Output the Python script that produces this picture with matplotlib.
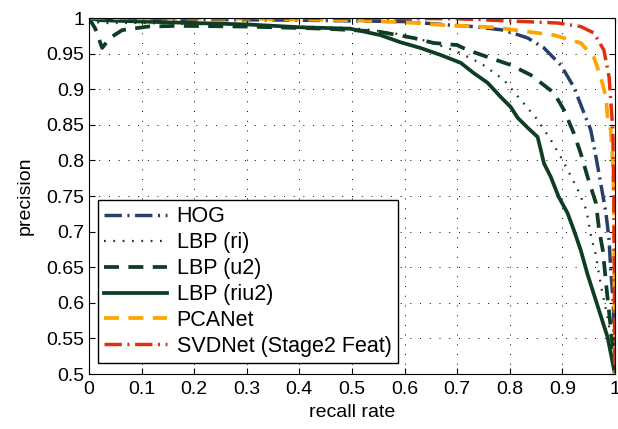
import matplotlib
matplotlib.use("Agg")
import matplotlib.pyplot as plt
import numpy as np

# precision / recall curves, one pair of lists per descriptor
hog_recall = [0.0, 0.05, 0.2, 0.4, 0.6, 0.688, 0.731, 0.789, 0.834, 0.865, 0.897, 0.922,
              0.941, 0.954, 0.964, 0.973, 0.983, 0.989, 0.992, 0.997, 0.999, 1.0]
hog_prec = [1.0, 0.998, 0.998, 0.997, 0.995, 0.99, 0.988, 0.983, 0.972, 0.958, 0.934, 0.903,
            0.867, 0.843, 0.805, 0.768, 0.726, 0.688, 0.646, 0.60, 0.544, 0.5]

ri_recall = [0.0, 0.02, 0.1, 0.3, 0.5, 0.55, 0.6, 0.65, 0.7, 0.748, 0.789, 0.821, 0.853,
             0.878, 0.897, 0.91, 0.93, 0.946, 0.956, 0.962, 0.974, 0.986, 0.996, 1.0]
ri_prec = [1.0, 0.993, 0.993, 0.99, 0.986, 0.982, 0.976, 0.966, 0.953, 0.935, 0.913, 0.885,
           0.857, 0.829, 0.805, 0.787, 0.758, 0.73, 0.688, 0.674, 0.622, 0.58, 0.534, 0.5]

u2_recall = [0.0, 0.012, 0.025, 0.04, 0.063, 0.112, 0.17, 0.3, 0.45, 0.55, 0.617, 0.655, 0.70,
             0.72, 0.802, 0.840, 0.884, 0.903, 0.922, 0.935, 0.948, 0.964, 0.970,
             0.977, 0.985, 0.996, 1.0]
u2_prec = [1.0, 0.985, 0.958, 0.972, 0.983, 0.988, 0.989, 0.988, 0.985, 0.981, 0.972, 0.965, 0.962,
           0.955, 0.934, 0.920, 0.895, 0.871, 0.838, 0.810, 0.777, 0.740, 0.702,
           0.674, 0.614, 0.538, 0.5]

riu2_recall = [0.0, 0.02, 0.1, 0.3, 0.402, 0.497, 0.554, 0.592, 0.630, 0.669, 0.707, 0.731,
               0.758, 0.783, 0.802, 0.815, 0.834, 0.853, 0.859, 0.865, 0.878, 0.893, 0.910,
               0.922, 0.935, 0.948, 0.967, 0.986, 0.996, 1.0]
riu2_prec = [1.0, 0.997, 0.995, 0.991, 0.987, 0.985, 0.976, 0.966, 0.958, 0.948, 0.937, 0.923,
             0.909, 0.889, 0.875, 0.860, 0.846, 0.833, 0.815, 0.796, 0.777, 0.749, 0.726,
             0.702, 0.674, 0.640, 0.596, 0.552, 0.515, 0.5]

pca_recall = [0.0, 0.3, 0.5, 0.625, 0.674, 0.77, 0.884, 0.935, 0.96, 0.973, 0.983, 0.986,
              0.992, 0.996, 0.998, 0.999, 1.0]
pca_prec = [1.0, 0.999, 0.997, 0.993, 0.99, 0.987, 0.976, 0.965, 0.945, 0.917, 0.889, 0.861,
            0.843, 0.796, 0.749, 0.62, 0.5]

svd_recall = [0.0, 0.4, 0.7, 0.891, 0.935, 0.96, 0.979, 0.989, 0.992, 0.996, 0.998, 0.999, 1.0]
svd_prec = [1.0, 1.0, 0.999, 0.993, 0.988, 0.979, 0.955, 0.917, 0.885, 0.843, 0.75, 0.62, 0.5]

labels = ["HOG", "LBP (ri)", "LBP (u2)", "LBP (riu2)", "PCANet", "SVDNet (Stage2 Feat)"]

navy = "#27406b"
green = "#0f3d24"
orange = "#ffa500"
red = "#e2300f"

plt.rcParams["font.family"] = "Liberation Sans"
fig = plt.figure(figsize=(6.18, 4.29), dpi=100)
ax = fig.add_axes([0.144, 0.128, 0.851, 0.83])

dashdot = (0, (5, 1.6, 0.6, 1.6))
ax.plot(hog_recall, hog_prec, color=navy, lw=2.5, ls=dashdot, label=labels[0])
ax.plot(ri_recall, ri_prec, color=green, lw=1.6, ls=(0, (0.8, 3.4)), label=labels[1])
ax.plot(u2_recall, u2_prec, color=green, lw=2.7, ls=(0, (4, 2.5)), label=labels[2])
ax.plot(riu2_recall, riu2_prec, color=green, lw=2.7, ls="-", label=labels[3])
ax.plot(pca_recall, pca_prec, color=orange, lw=2.7, ls=(0, (4, 2.5)), label=labels[4])
ax.plot(svd_recall, svd_prec, color=red, lw=2.5, ls=dashdot, label=labels[5])

ax.set_xlim(0, 1)
ax.set_ylim(0.5, 1)
ax.set_xticks(np.arange(0, 1.01, 0.1))
ax.set_yticks(np.arange(0.5, 1.001, 0.05))
ax.set_xticklabels(["0", "0.1", "0.2", "0.3", "0.4", "0.5", "0.6", "0.7", "0.8", "0.9", "1"])
ax.set_yticklabels(["0.5", "0.55", "0.6", "0.65", "0.7", "0.75", "0.8", "0.85", "0.9", "0.95", "1"])
ax.tick_params(direction="in", top=True, right=True, labelsize=14, length=4, width=0.8)
ax.tick_params(axis="x", pad=5)
ax.grid(True, color="black", ls=(0, (1, 9)), lw=0.7)
for sp in ax.spines.values():
    sp.set_linewidth(0.8)

ax.set_xlabel("recall rate", fontsize=14, labelpad=4)
ax.set_ylabel("precision", fontsize=14, labelpad=9)

leg = ax.legend(loc="lower left", bbox_to_anchor=(0.017, 0.03), fontsize=15.5,
                fancybox=False, edgecolor="black", framealpha=1, handlelength=2.9,
                borderpad=0.3, labelspacing=0.23, handletextpad=0.45, borderaxespad=0)
leg.get_frame().set_linewidth(1.0)

fig.savefig("out.png", dpi=100)
